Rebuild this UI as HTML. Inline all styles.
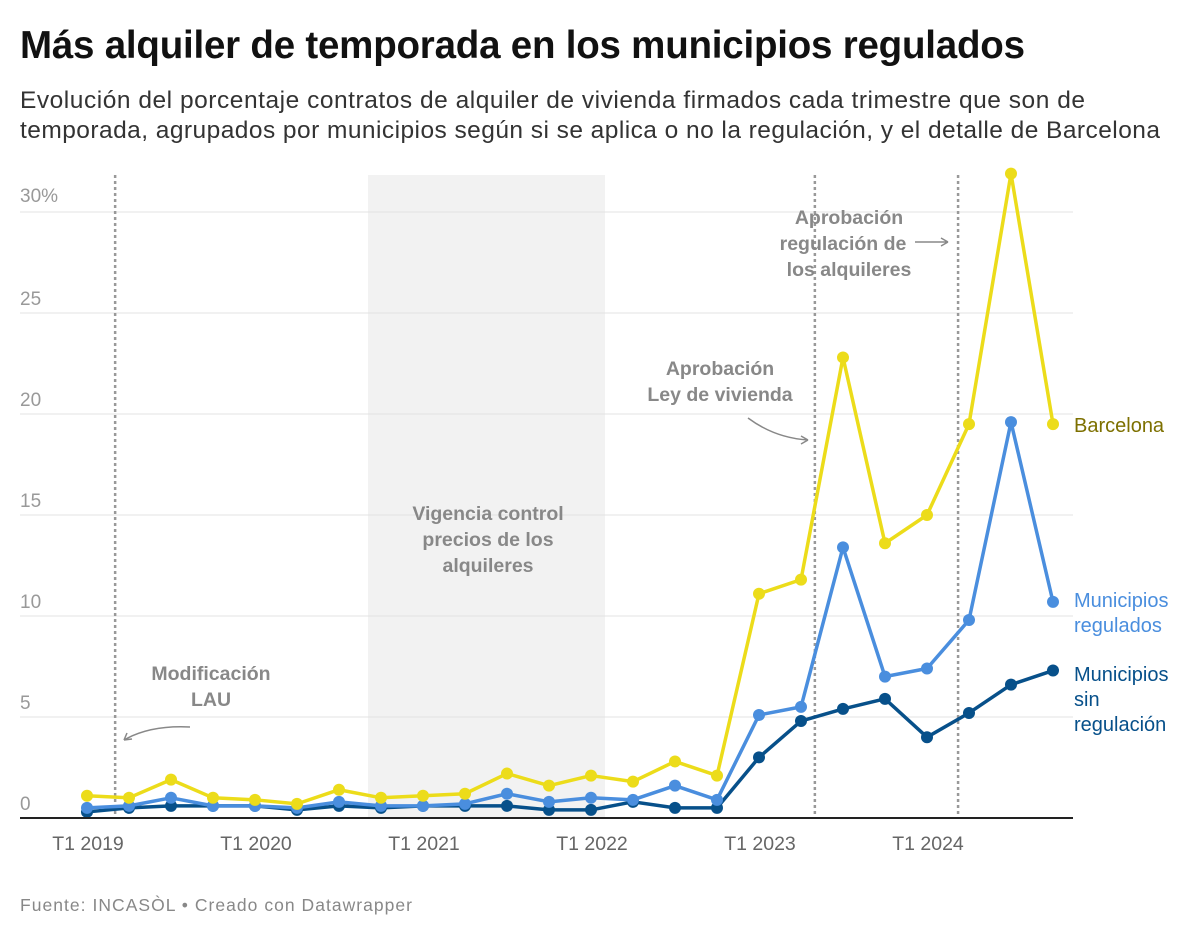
<!DOCTYPE html>
<html><head><meta charset="utf-8"><style>
body{margin:0;background:#fff;font-family:"Liberation Sans",sans-serif;}
svg text{font-family:"Liberation Sans",sans-serif;}
</style></head><body>
<svg width="1200" height="935" viewBox="0 0 1200 935">
<text x="20" y="58" font-size="38.5" font-weight="bold" fill="#111" textLength="1005">Más alquiler de temporada en los municipios regulados</text>
<text x="20" y="108" font-size="24.5" fill="#333" textLength="1065">Evolución del porcentaje contratos de alquiler de vivienda firmados cada trimestre que son de</text>
<text x="20" y="138" font-size="24.5" fill="#333" textLength="1140">temporada, agrupados por municipios según si se aplica o no la regulación, y el detalle de Barcelona</text>
<rect x="368" y="175" width="237" height="643" fill="#f2f2f2"/>
<g id="grid"></g>
<g id="ann" font-size="19.5" font-weight="bold" fill="#888" text-anchor="middle">
<text x="488" y="520"><tspan x="488">Vigencia control</tspan><tspan x="488" dy="26">precios de los</tspan><tspan x="488" dy="26">alquileres</tspan></text>
<text x="211" y="680"><tspan x="211">Modificación</tspan><tspan x="211" dy="26">LAU</tspan></text>
<text x="720" y="375"><tspan x="720">Aprobación</tspan><tspan x="720" dy="26">Ley de vivienda</tspan></text>
<text x="849" y="224"><tspan x="849">Aprobación</tspan><tspan x="843" dy="26">regulación de</tspan><tspan x="849" dy="26">los alquileres</tspan></text>
</g>
<g stroke="#888" stroke-width="1.5" fill="none">
<path d="M190 727 Q150 725 124 740 M124 740 l8 -1 M124 740 l3 -7"/>
<path d="M748 418 Q775 438 808 440 M808 440 l-7 -4 M808 440 l-7 4"/>
<path d="M915 242 L948 242 M948 242 l-7 -4 M948 242 l-7 4"/>
</g>
<g id="plot"></g>
<line x1="20" y1="818" x2="1073" y2="818" stroke="#222" stroke-width="2"/>
<g id="xt"></g>
<text x="1074" y="432" font-size="20" fill="#7d7000">Barcelona</text>
<text x="1074" y="607" font-size="20" fill="#4a8ede"><tspan x="1074">Municipios</tspan><tspan x="1074" dy="25">regulados</tspan></text>
<text x="1074" y="681" font-size="20" fill="#07508a"><tspan x="1074">Municipios</tspan><tspan x="1074" dy="25">sin</tspan><tspan x="1074" dy="25">regulación</tspan></text>
<text x="20" y="911" font-size="17.5" fill="#888" textLength="392">Fuente: INCASÒL • Creado con Datawrapper</text>
</svg>
<script>
const quarters = 24;
const xLabels = ["T1 2019","T1 2020","T1 2021","T1 2022","T1 2023","T1 2024"];
const yTicks = [0,5,10,15,20,25,30];
const barcelona = [1.1,1.0,1.9,1.0,0.9,0.7,1.4,1.0,1.1,1.2,2.2,1.6,2.1,1.8,2.8,2.1,11.1,11.8,22.8,13.6,15.0,19.5,31.9,19.5];
const regulados = [0.5,0.6,1.0,0.6,0.6,0.5,0.8,0.6,0.6,0.7,1.2,0.8,1.0,0.9,1.6,0.9,5.1,5.5,13.4,7.0,7.4,9.8,19.6,10.7];
const sinRegulacion = [0.3,0.5,0.6,0.6,0.6,0.4,0.6,0.5,0.6,0.6,0.6,0.4,0.4,0.8,0.5,0.5,3.0,4.8,5.4,5.9,4.0,5.2,6.6,7.3];
const eventQuarters = [0.67,17.33,20.74];
const NS="http://www.w3.org/2000/svg";
const x = i => 87 + i*42;
const y = v => 818 - v*20.2;
function mk(t,a,p){const e=document.createElementNS(NS,t);for(const k in a)e.setAttribute(k,a[k]);p.appendChild(e);return e;}
const grid=document.getElementById('grid');
yTicks.forEach(t=>{
  if(t>0){const l=mk('line',{x1:20,x2:1073,y1:y(t),y2:y(t),stroke:'#e3e3e3','stroke-width':1},grid);
  
  }
  const tx=mk('text',{x:20,y:y(t)-(t===30?10:8),'font-size':19,fill:'#999'},grid);
  tx.textContent = t===30?'30%':String(t);
  
  
});
eventQuarters.forEach((q,i)=>{
  const l=mk('line',{x1:x(q),x2:x(q),y1:175,y2:818,stroke:'#999','stroke-width':2.5,'stroke-dasharray':'3,3'},grid);
  
  
});
const plot=document.getElementById('plot');
[[sinRegulacion,'#07508a','sin-regulacion'],[regulados,'#4a8ede','regulados'],[barcelona,'#ecdc1a','barcelona']].forEach(([d,c,n])=>{
  const g=mk('g',{},plot);
  
  
  const p=mk('polyline',{points:d.map((v,i)=>x(i)+','+y(v)).join(' '),fill:'none',stroke:c,'stroke-width':3.5,'stroke-linejoin':'round'},g);
  
  
  d.forEach((v,i)=>{
    const ci=mk('circle',{cx:x(i),cy:y(v),r:6,fill:c},g);
    
    
  });
});
const xt=document.getElementById('xt');
xLabels.forEach((s,i)=>{
  const t=mk('text',{x:x(i*4)+1,y:850,'font-size':19.5,fill:'#666','text-anchor':'middle'},xt);
  t.textContent=s;
  
  
});
</script>
</body></html>
